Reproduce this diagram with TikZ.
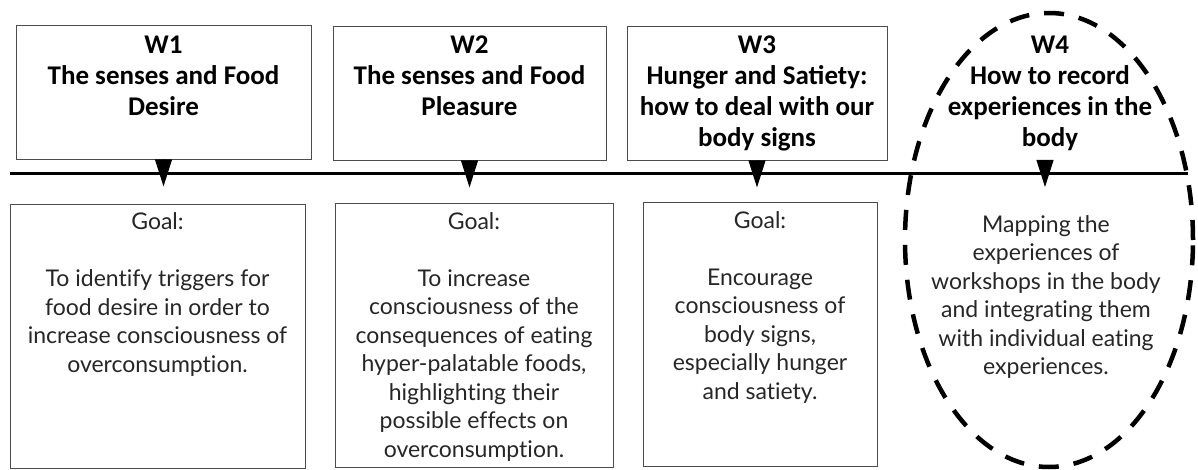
\documentclass[tikz,border=0pt]{standalone}
\usepackage{fontspec}
\setmainfont{Lato}[Ligatures=NoCommon]
\newfontfamily\headfont{Carlito}
\usetikzlibrary{positioning,arrows.meta}

\tikzset{
  weekbox/.style={draw=black!70, line width=0.8pt, minimum height=134pt},
  goalbox/.style={draw=black!70, line width=0.8pt, minimum height=264pt},
  headtext/.style={align=center, inner sep=0pt,
    font=\headfont\bfseries\fontsize{27}{31}\selectfont},
  goaltext/.style={align=center, inner sep=0pt, text=black!85,
    font=\fontsize{23}{28.5}\selectfont},
  marker/.style={line width=1pt, -{Triangle[width=17pt,length=27pt]}},
}

\begin{document}
\begin{tikzpicture}[x=1pt, y=-1pt]
  \useasboundingbox (0,0) rectangle (1198,470);

  % week boxes above the line
  \node[weekbox, minimum width=295pt] (w1box) at (163.5,92) {};
  \node[weekbox, minimum width=273pt] (w2box) at (469.5,93) {};
  \node[weekbox, minimum width=260pt] (w3box) at (757,93) {};
  \coordinate (w4box) at (1045,160);

  \node[headtext, below=11pt of w1box.north] (w1head) {W1\\The senses and Food\\Desire};
  \node[headtext, below=10pt of w2box.north] (w2head) {W2\\The senses and Food\\Pleasure};
  \node[headtext, below=10pt of w3box.north] (w3head) {W3\\Hunger and Satiety:\\how to deal with our\\body signs};
  \node[headtext, anchor=north] (w4head) at (1050,36) {W4\\How to record\\experiences in the\\body};

  % timeline
  \coordinate (tlstart) at (10,174);
  \coordinate (tlend) at (1188,174);
  \draw[line width=3pt] (tlstart) -- (tlend);

  % goal boxes below the line
  \node[goalbox, minimum width=295pt] (g1box) at (157.5,336) {};
  \node[goalbox, minimum width=278pt] (g2box) at (474,335.5) {};
  \node[goalbox, minimum width=234pt] (g3box) at (760,334.5) {};

  \node[goaltext, below=9pt of g1box.north] (g1text) {Goal:\\[28.5pt]To identify triggers for\\food desire in order to\\increase consciousness of\\overconsumption.};
  \node[goaltext, below=9pt of g2box.north] (g2text) {Goal:\\[28.5pt]To increase\\consciousness of the\\consequences of eating\\hyper-palatable foods,\\highlighting their\\possible effects on\\overconsumption.};
  \node[goaltext, below=9pt of g3box.north] (g3text) {Goal:\\[28.5pt]Encourage\\consciousness of\\body signs,\\especially hunger\\and satiety.};
  \node[goaltext, anchor=north] (g4text) at (1046,215) {Mapping the\\experiences of\\workshops in the body\\and integrating them\\with individual eating\\experiences.};

  % markers on the line
  \draw[marker] (w1box.south) -- ++(0,27);
  \draw[marker] (w2box.south) -- ++(0,27);
  \draw[marker] (w3box.south) -- ++(0,27);
  \draw[marker] (w4box) -- ++(0,27);

  % W4 highlight
  \draw[line width=4.5pt, dash pattern=on 20pt off 15pt] (1049,240) ellipse [x radius=144pt, y radius=227pt];
\end{tikzpicture}
\end{document}
